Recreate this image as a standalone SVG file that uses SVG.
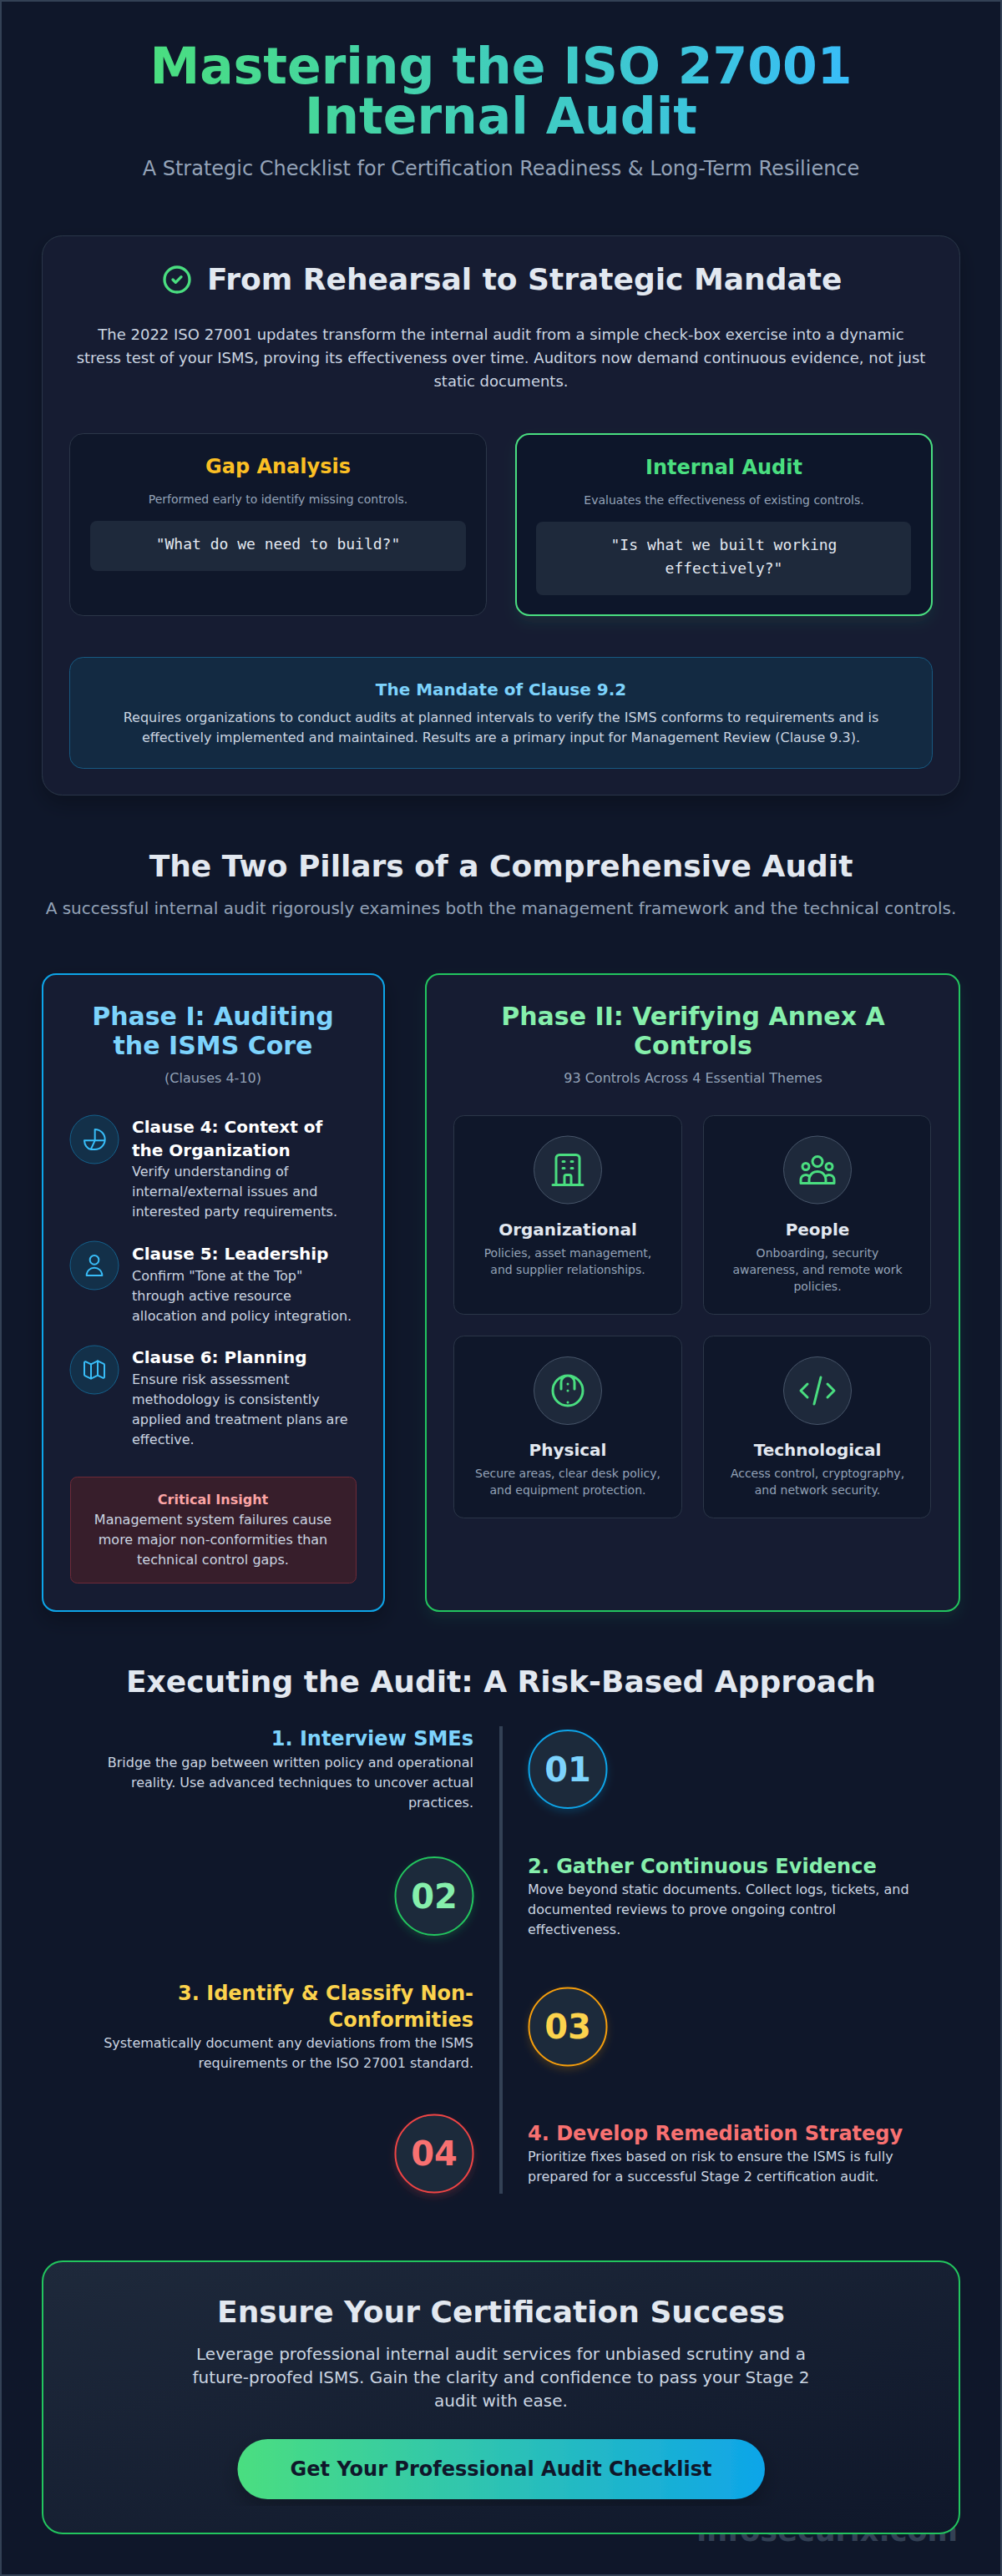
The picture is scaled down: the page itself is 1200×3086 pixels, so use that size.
<svg xmlns="http://www.w3.org/2000/svg" width="1200" height="3086" viewBox="0 0 1200 3086">
<style>
text{font-family:"DejaVu Sans",sans-serif}
.m{text-anchor:middle}.e{text-anchor:end}.b{font-weight:700}
.mono{font-family:"DejaVu Sans Mono",monospace;font-size:18px;fill:#e2e8f0}
.h2{font-size:36px;font-weight:700;fill:#e2e8f0;text-anchor:middle}
.panel{fill:#161f32;stroke:#2b3648;stroke-width:1}
.sub{fill:#0f172a;stroke:#2b3648;stroke-width:1}
.code{fill:#1e293b}
.s14{font-size:14px;fill:#94a3b8;text-anchor:middle}
.s16{font-size:16px;fill:#cbd5e1}
.s18{font-size:18px;fill:#cbd5e1;text-anchor:middle}
.s20{font-size:20px;fill:#94a3b8;text-anchor:middle}
.ct{font-size:20px;font-weight:700;fill:#fff}
.tt{font-size:20px;font-weight:700;fill:#e2e8f0;text-anchor:middle}
.ph{font-size:30px;font-weight:700;text-anchor:middle}
.st{font-size:24px;font-weight:700}
.num{font-size:40px;font-weight:700;text-anchor:middle}
.ico{fill:none;stroke-width:1.5;stroke-linecap:round;stroke-linejoin:round}
.icb{fill:#133049;stroke:#14618c;stroke-width:1}
.icg{fill:#1e293b;stroke:#475569;stroke-width:1}
.circ{fill:#1e293b;stroke-width:2}
</style>
<defs>
<linearGradient id="tg" gradientUnits="userSpaceOnUse" x1="184" y1="0" x2="1018" y2="0"><stop offset="0" stop-color="#4ade80"/><stop offset="1" stop-color="#38bdf8"/></linearGradient>
<linearGradient id="bg" x1="0" y1="0" x2="1" y2="0"><stop offset="0" stop-color="#4ade80"/><stop offset="1" stop-color="#0ea5e9"/></linearGradient>
<linearGradient id="cg" x1="0" y1="0" x2="1" y2="1"><stop offset="0" stop-color="#1e293b"/><stop offset="1" stop-color="#0f172a"/></linearGradient>
<filter id="sh" x="-10%" y="-10%" width="120%" height="120%"><feDropShadow dx="0" dy="10" stdDeviation="12" flood-color="#000" flood-opacity=".25"/></filter>
<filter id="gg" x="-10%" y="-10%" width="120%" height="130%"><feDropShadow dx="0" dy="8" stdDeviation="8" flood-color="#4ade80" flood-opacity=".08"/></filter>
<filter id="glb" x="-40%" y="-40%" width="180%" height="180%"><feDropShadow dx="0" dy="4" stdDeviation="5" flood-color="#0ea5e9" flood-opacity=".2"/></filter>
<filter id="glg" x="-40%" y="-40%" width="180%" height="180%"><feDropShadow dx="0" dy="4" stdDeviation="5" flood-color="#22c55e" flood-opacity=".2"/></filter>
<filter id="gly" x="-40%" y="-40%" width="180%" height="180%"><feDropShadow dx="0" dy="4" stdDeviation="5" flood-color="#f59e0b" flood-opacity=".2"/></filter>
<filter id="glr" x="-40%" y="-40%" width="180%" height="180%"><feDropShadow dx="0" dy="4" stdDeviation="5" flood-color="#ef4444" flood-opacity=".2"/></filter>
</defs>
<rect x="1" y="1" width="1198" height="3084" fill="#0f172a" stroke="#334155" stroke-width="2"/>
<g id="header">
<text class="m b" x="600" y="100" font-size="60" fill="url(#tg)">Mastering the ISO 27001</text>
<text class="m b" x="600" y="160" font-size="60" fill="url(#tg)">Internal Audit</text>
<text class="m" x="600" y="210" font-size="24" fill="#94a3b8">A Strategic Checklist for Certification Readiness &amp; Long-Term Resilience</text>
</g>
<g id="watermark"><text class="e b" x="1147" y="3044" font-size="35" fill="#334155">infosecurix.com</text></g>
<g id="mandate-section">
<rect class="panel" x="50.500" y="282.500" width="1099" height="670" rx="24" filter="url(#sh)"/>
<g transform="translate(192 315) scale(1.6667)"><path fill="none" stroke="#4ade80" stroke-width="2" stroke-linecap="round" stroke-linejoin="round" d="M9 12l2 2 4-4m6 2a9 9 0 11-18 0 9 9 0 0118 0z"/></g>
<text x="248" y="347" font-size="36" font-weight="700" fill="#e2e8f0">From Rehearsal to Strategic Mandate</text>
<text class="s18" x="600" y="407">The 2022 ISO 27001 updates transform the internal audit from a simple check-box exercise into a dynamic</text>
<text class="s18" x="600" y="435">stress test of your ISMS, proving its effectiveness over time. Auditors now demand continuous evidence, not just</text>
<text class="s18" x="600" y="463">static documents.</text>
</g>
<g id="gap-analysis">
<rect class="sub" x="83.500" y="519.500" width="499" height="218" rx="16"/>
<text class="m b" x="333" y="567" font-size="24" fill="#fbbf24">Gap Analysis</text>
<text class="s14" x="333" y="603">Performed early to identify missing controls.</text>
<rect class="code" x="108" y="624" width="450" height="60" rx="8"/>
<text class="mono m" x="333" y="658">"What do we need to build?"</text>
</g>
<g id="internal-audit">
<rect x="618" y="520" width="498" height="217" rx="16" fill="#0f172a" stroke="#4ade80" stroke-width="2" filter="url(#gg)"/>
<text class="m b" x="867" y="568" font-size="24" fill="#4ade80">Internal Audit</text>
<text class="s14" x="867" y="604">Evaluates the effectiveness of existing controls.</text>
<rect class="code" x="642" y="625" width="449" height="88" rx="8"/>
<text class="mono m" x="867" y="659">"Is what we built working</text>
<text class="mono m" x="867" y="687">effectively?"</text>
</g>
<g id="clause-92">
<rect x="83.500" y="787.500" width="1033" height="133" rx="16" fill="#132a42" stroke="#175a82" stroke-width="1"/>
<text class="m b" x="600" y="833" font-size="20" fill="#7dd3fc">The Mandate of Clause 9.2</text>
<text class="s16 m" x="600" y="865">Requires organizations to conduct audits at planned intervals to verify the ISMS conforms to requirements and is</text>
<text class="s16 m" x="600" y="889">effectively implemented and maintained. Results are a primary input for Management Review (Clause 9.3).</text>
</g>
<g id="pillars-heading">
<text class="h2" x="600" y="1050">The Two Pillars of a Comprehensive Audit</text>
<text class="s20" x="600" y="1095">A successful internal audit rigorously examines both the management framework and the technical controls.</text>
</g>
<g id="phase-1">
<rect x="51" y="1167" width="409" height="763" rx="16" fill="#161f32" stroke="#0ea5e9" stroke-width="2" filter="url(#sh)"/>
<text class="ph" x="255" y="1228" fill="#7dd3fc">Phase I: Auditing</text>
<text class="ph" x="255" y="1263" fill="#7dd3fc">the ISMS Core</text>
<text class="m" x="255" y="1297" font-size="16" fill="#94a3b8">(Clauses 4-10)</text>
</g>
<g id="clause-4">
<circle class="icb" cx="113" cy="1365" r="29"/>
<g transform="translate(97 1349) scale(1.3333)" class="ico" stroke="#38bdf8"><path d="M12.500 3A9 9 0 0 1 12.500 21H9C5.500 20.500 3.200 17 3 13H21.500M12.500 3V13L9 20.500"/></g>
<text class="ct" x="158" y="1357">Clause 4: Context of</text>
<text class="ct" x="158" y="1385">the Organization</text>
<text class="s16" x="158" y="1409">Verify understanding of</text>
<text class="s16" x="158" y="1433">internal/external issues and</text>
<text class="s16" x="158" y="1457">interested party requirements.</text>
</g>
<g id="clause-5">
<circle class="icb" cx="113" cy="1516" r="29"/>
<g transform="translate(97 1500) scale(1.3333)" class="ico" stroke="#38bdf8"><path d="M16 7a4 4 0 11-8 0 4 4 0 018 0zM12 14a7 7 0 00-7 7h14a7 7 0 00-7-7z"/></g>
<text class="ct" x="158" y="1509">Clause 5: Leadership</text>
<text class="s16" x="158" y="1534">Confirm "Tone at the Top"</text>
<text class="s16" x="158" y="1558">through active resource</text>
<text class="s16" x="158" y="1582">allocation and policy integration.</text>
</g>
<g id="clause-6">
<circle class="icb" cx="113" cy="1641" r="29"/>
<g transform="translate(97 1625) scale(1.3333)" class="ico" stroke="#38bdf8"><path d="M9 20l-5.447-2.724A1 1 0 013 16.382V5.618a1 1 0 011.447-.894L9 7m0 13l6-3m-6 3V7m6 10l4.553 2.276A1 1 0 0021 18.382V7.618a1 1 0 00-.553-.894L15 4m0 13V4m0 0L9 7"/></g>
<text class="ct" x="158" y="1633">Clause 6: Planning</text>
<text class="s16" x="158" y="1658">Ensure risk assessment</text>
<text class="s16" x="158" y="1682">methodology is consistently</text>
<text class="s16" x="158" y="1706">applied and treatment plans are</text>
<text class="s16" x="158" y="1730">effective.</text>
</g>
<g id="critical-insight">
<rect x="84.500" y="1769.500" width="342" height="127" rx="8" fill="#371e2b" stroke="#6f2a38" stroke-width="1"/>
<text class="m b" x="255" y="1802" font-size="16" fill="#fca5a5">Critical Insight</text>
<text class="s16 m" x="255" y="1826">Management system failures cause</text>
<text class="s16 m" x="255" y="1850">more major non-conformities than</text>
<text class="s16 m" x="255" y="1874">technical control gaps.</text>
</g>
<g id="phase-2">
<rect x="510" y="1167" width="639" height="763" rx="16" fill="#161f32" stroke="#22c55e" stroke-width="2" filter="url(#gg)"/>
<text class="ph" x="830" y="1228" fill="#86efac">Phase II: Verifying Annex A</text>
<text class="ph" x="830" y="1263" fill="#86efac">Controls</text>
<text class="m" x="830" y="1297" font-size="16" fill="#94a3b8">93 Controls Across 4 Essential Themes</text>
</g>
<g id="organizational">
<rect class="sub" x="543.500" y="1336.500" width="273" height="238" rx="12"/>
<circle class="icg" cx="680" cy="1401.500" r="40.500"/>
<g transform="translate(656 1377.500) scale(2)" class="ico" stroke="#4ade80"><path d="M19 21V5a2 2 0 00-2-2H7a2 2 0 00-2 2v16m14 0h2m-2 0h-5m-9 0H3m2 0h5M9 7h1m-1 4h1m4-4h1m-1 4h1m-5 10v-5a1 1 0 011-1h2a1 1 0 011 1v5m-4 0h4"/></g>
<text class="tt" x="680" y="1480">Organizational</text>
<text class="s14" x="680" y="1506">Policies, asset management,</text>
<text class="s14" x="680" y="1526">and supplier relationships.</text>
</g>
<g id="people">
<rect class="sub" x="842.500" y="1336.500" width="272" height="238" rx="12"/>
<circle class="icg" cx="979" cy="1401.500" r="40.500"/>
<g transform="translate(955 1377.500) scale(2)" class="ico" stroke="#4ade80"><path d="M17 20h5v-2a3 3 0 00-5.356-1.857M17 20H7m10 0v-2c0-.656-.126-1.283-.356-1.857M7 20H2v-2a3 3 0 015.356-1.857M7 20v-2c0-.656.126-1.283.356-1.857m0 0a5.002 5.002 0 019.288 0M15 7a3 3 0 11-6 0 3 3 0 016 0zm6 3a2 2 0 11-4 0 2 2 0 014 0zM7 10a2 2 0 11-4 0 2 2 0 014 0z"/></g>
<text class="tt" x="979" y="1480">People</text>
<text class="s14" x="979" y="1506">Onboarding, security</text>
<text class="s14" x="979" y="1526">awareness, and remote work</text>
<text class="s14" x="979" y="1546">policies.</text>
</g>
<g id="physical">
<rect class="sub" x="543.500" y="1600.500" width="273" height="218" rx="12"/>
<circle class="icg" cx="680" cy="1666" r="40.500"/>
<g transform="translate(656 1642) scale(2)" class="ico" stroke="#4ade80"><path d="M21 12a9 9 0 11-18 0 9 9 0 0118 0zM8 11V7a4 4 0 118 0v4M12 8v.01M12 12v.01M12 19v.01"/></g>
<text class="tt" x="680" y="1744">Physical</text>
<text class="s14" x="680" y="1770">Secure areas, clear desk policy,</text>
<text class="s14" x="680" y="1790">and equipment protection.</text>
</g>
<g id="technological">
<rect class="sub" x="842.500" y="1600.500" width="272" height="218" rx="12"/>
<circle class="icg" cx="979" cy="1666" r="40.500"/>
<g transform="translate(955 1642) scale(2)" class="ico" stroke="#4ade80"><path d="M10 20l4-16m4 4l4 4-4 4M6 16l-4-4 4-4"/></g>
<text class="tt" x="979" y="1744">Technological</text>
<text class="s14" x="979" y="1770">Access control, cryptography,</text>
<text class="s14" x="979" y="1790">and network security.</text>
</g>
<g id="execution-heading"><text class="h2" x="600" y="2027">Executing the Audit: A Risk-Based Approach</text></g>
<g id="connectors"><line x1="600" y1="2068" x2="600" y2="2628" stroke="#334155" stroke-width="4"/></g>
<g id="step-1">
<circle class="circ" cx="680" cy="2119.500" r="46.500" stroke="#0ea5e9" filter="url(#glb)"/>
<text class="num" x="680" y="2134" fill="#7dd3fc">01</text>
<text class="st e" x="567" y="2091" fill="#7dd3fc">1. Interview SMEs</text>
<text class="s16 e" x="567" y="2117">Bridge the gap between written policy and operational</text>
<text class="s16 e" x="567" y="2141">reality. Use advanced techniques to uncover actual</text>
<text class="s16 e" x="567" y="2165">practices.</text>
</g>
<g id="step-2">
<circle class="circ" cx="520" cy="2271.500" r="46.500" stroke="#22c55e" filter="url(#glg)"/>
<text class="num" x="520" y="2286" fill="#86efac">02</text>
<text class="st" x="632" y="2244" fill="#86efac">2. Gather Continuous Evidence</text>
<text class="s16" x="632" y="2269">Move beyond static documents. Collect logs, tickets, and</text>
<text class="s16" x="632" y="2293">documented reviews to prove ongoing control</text>
<text class="s16" x="632" y="2317">effectiveness.</text>
</g>
<g id="step-3">
<circle class="circ" cx="680" cy="2428" r="46.500" stroke="#f59e0b" filter="url(#gly)"/>
<text class="num" x="680" y="2442" fill="#fcd34d">03</text>
<text class="st e" x="567" y="2396" fill="#fcd34d">3. Identify &amp; Classify Non-</text>
<text class="st e" x="567" y="2428" fill="#fcd34d">Conformities</text>
<text class="s16 e" x="567" y="2453">Systematically document any deviations from the ISMS</text>
<text class="s16 e" x="567" y="2477">requirements or the ISO 27001 standard.</text>
</g>
<g id="step-4">
<circle class="circ" cx="520" cy="2580" r="46.500" stroke="#ef4444" filter="url(#glr)"/>
<text class="num" x="520" y="2594" fill="#f87171">04</text>
<text class="st" x="632" y="2564" fill="#f87171">4. Develop Remediation Strategy</text>
<text class="s16" x="632" y="2589">Prioritize fixes based on risk to ensure the ISMS is fully</text>
<text class="s16" x="632" y="2613">prepared for a successful Stage 2 certification audit.</text>
</g>
<g id="cta">
<rect x="51" y="2709" width="1098" height="326" rx="24" fill="url(#cg)" stroke="#22c55e" stroke-width="2"/>
<text class="h2" x="600" y="2782">Ensure Your Certification Success</text>
<text class="m" x="600" y="2827" font-size="20" fill="#cbd5e1">Leverage professional internal audit services for unbiased scrutiny and a</text>
<text class="m" x="600" y="2855" font-size="20" fill="#cbd5e1">future-proofed ISMS. Gain the clarity and confidence to pass your Stage 2</text>
<text class="m" x="600" y="2883" font-size="20" fill="#cbd5e1">audit with ease.</text>
<rect x="284.500" y="2922" width="631.500" height="72" rx="36" fill="url(#bg)" filter="url(#sh)"/>
<text class="m b" x="600" y="2966" font-size="24" fill="#0f172a">Get Your Professional Audit Checklist</text>
</g>
</svg>
